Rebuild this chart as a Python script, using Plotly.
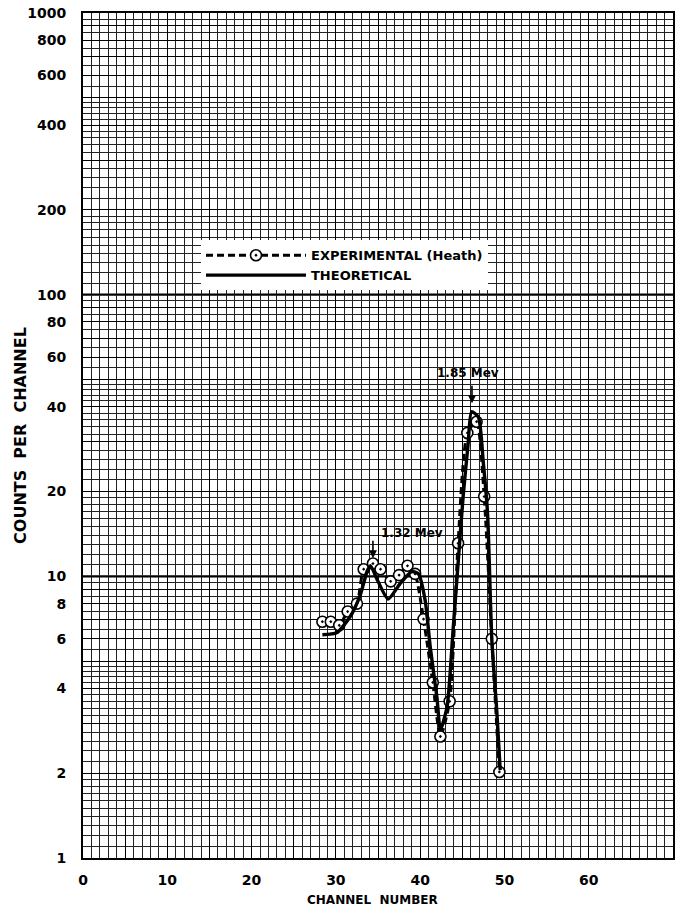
import math
import plotly.graph_objects as go

# Experimental (Heath) points
exp_channel = [28.4, 29.4, 30.4, 31.4, 32.5, 33.3, 34.4, 35.3, 36.5, 37.5, 38.5, 39.4,
               40.4, 41.5, 42.4, 43.5, 44.5, 45.6, 46.7, 47.6, 48.5, 49.4]
exp_counts = [6.9, 6.9, 6.7, 7.5, 8.0, 10.6, 11.1, 10.6, 9.6, 10.1, 10.9, 10.2,
              7.05, 4.2, 2.7, 3.6, 13.1, 32.3, 35.4, 19.2, 6.0, 2.02]

# Theoretical curve
th_channel = [28.4, 30.1, 31.7, 32.9, 33.7, 34.1, 35.0, 36.2, 37.6, 39.0, 39.8, 40.6,
              41.2, 42.0, 42.4, 43.2, 43.9, 44.5, 45.1, 45.7, 46.1, 46.9, 47.5, 48.0,
              48.5, 49.1, 49.5]
th_counts = [6.2, 6.3, 7.2, 8.6, 10.4, 10.9, 9.6, 8.3, 9.4, 10.4, 10.2, 8.2,
             5.6, 3.7, 2.85, 3.45, 6.4, 11.1, 19.2, 29.7, 38.4, 36.8, 25.2, 16.7,
             6.0, 3.3, 2.05]

# Peak labels: (text, channel, label counts, arrow tip counts)
peak_labels = ["1.32 Mev", "1.85 Mev"]
peak_text_channel = [39.05, 45.7]
peak_text_counts = [14.2, 52.7]
peak_arrow_channel = [34.4, 46.15]
peak_arrow_counts = [11.6, 41.2]

# Axis ticks
x_major = list(range(0, 71, 5))
x_major_text = [str(v) if v % 10 == 0 else "" for v in x_major]
x_minor = list(range(0, 71))

decades = [1, 10, 100]
y_major = [m * d for d in decades for m in range(1, 10)] + [1000]
y_labeled_mult = {1, 2, 4, 6, 8}
y_major_text = []
for v in y_major:
    s = str(v)
    y_major_text.append(s if int(s[0]) in y_labeled_mult and set(s[1:]) <= {"0"} else "")
y_minor_steps = [1.1, 1.2, 1.3, 1.4, 1.5, 1.6, 1.7, 1.8, 1.9,
                 2.2, 2.4, 2.6, 2.8, 3.2, 3.4, 3.6, 3.8, 4.2, 4.4, 4.6, 4.8,
                 5.5, 6.5, 7.5, 8.5, 9.5]
y_minor = [s * d for d in decades for s in y_minor_steps]

FONT = "DejaVu Sans"

fig = go.Figure()
fig.add_trace(go.Scatter(
    x=exp_channel, y=exp_counts, name="EXPERIMENTAL (Heath)",
    mode="lines+markers",
    line=dict(color="black", width=3, dash="7px,4px", shape="spline", smoothing=0.6),
    marker=dict(symbol="circle-dot", size=11, color="white",
                line=dict(color="black", width=1.6)),
))
fig.add_trace(go.Scatter(
    x=th_channel, y=th_counts, name="THEORETICAL",
    mode="lines",
    line=dict(color="black", width=3.4, shape="spline", smoothing=0.6),
))

# decade emphasis lines
for d in [10, 100]:
    fig.add_shape(type="line", xref="paper", x0=0, x1=1, yref="y", y0=d, y1=d,
                  line=dict(color="black", width=2.2), layer="below")

# peak annotations (log axis -> annotation y in log10 units)
for lab, tx, ty, axx, ayy in zip(peak_labels, peak_text_channel, peak_text_counts,
                                  peak_arrow_channel, peak_arrow_counts):
    fig.add_annotation(x=tx, y=math.log10(ty), xref="x", yref="y", text="<b>%s</b>" % lab,
                       showarrow=False, font=dict(family=FONT, size=12, color="black"))
    fig.add_annotation(x=axx, y=math.log10(ayy), xref="x", yref="y", text="", showarrow=True,
                       ax=0, ay=-19, arrowhead=2, arrowsize=1, arrowwidth=1.6,
                       arrowcolor="black")

# axis titles
fig.add_annotation(xref="paper", yref="paper", x=-0.106, y=0.5,
                   text="<b>COUNTS  PER  CHANNEL</b>",
                   textangle=-90, showarrow=False, xanchor="center", yanchor="middle",
                   font=dict(family=FONT, size=16, color="black"))
fig.add_annotation(xref="paper", yref="paper", x=0.49, y=-0.05, text="<b>CHANNEL  NUMBER</b>",
                   showarrow=False, xanchor="center", yanchor="middle",
                   font=dict(family=FONT, size=12, color="black"))

fig.update_layout(
    width=675, height=913, autosize=False,
    margin=dict(l=83, r=0, t=13, b=55),
    paper_bgcolor="white", plot_bgcolor="white",
    font=dict(family=FONT, size=14, color="black"),
    showlegend=True,
    legend=dict(x=0.2, y=0.731, xanchor="left", yanchor="top",
                bgcolor="white", borderwidth=0, itemwidth=100,
                font=dict(family=FONT, size=13, color="black", weight="bold"),
                tracegroupgap=2),
    xaxis=dict(range=[0, 70], tickmode="array", tickvals=x_major, ticktext=x_major_text,
               showgrid=True, gridcolor="black", gridwidth=1.1,
               showline=True, linecolor="black", linewidth=2, mirror=True,
               ticks="", ticklabelstandoff=8, zeroline=False,
               tickfont=dict(family=FONT, size=14, weight="bold"),
               minor=dict(tickmode="array", tickvals=x_minor, showgrid=True,
                          gridcolor="#222", gridwidth=0.7, ticks="")),
    yaxis=dict(type="log", range=[0, 3], tickmode="array", tickvals=y_major, ticktext=y_major_text,
               showgrid=True, gridcolor="black", gridwidth=1.1,
               showline=True, linecolor="black", linewidth=2, mirror=True,
               ticks="", ticklabelstandoff=12, zeroline=False,
               tickfont=dict(family=FONT, size=14, weight="bold"),
               minor=dict(tickmode="array", tickvals=y_minor, showgrid=True,
                          gridcolor="#222", gridwidth=0.7, ticks="")),
)

post = (
    "document.body.style.margin='0';"
    "document.body.style.overflow='hidden';"
    "var gd=document.getElementById('{plot_id}');"
    "gd.style.width='675px';gd.style.height='913px';"
    "Plotly.relayout(gd,{width:675,height:913});"
)
fig.write_html("out.html", post_script=post, config={"displayModeBar": False})
